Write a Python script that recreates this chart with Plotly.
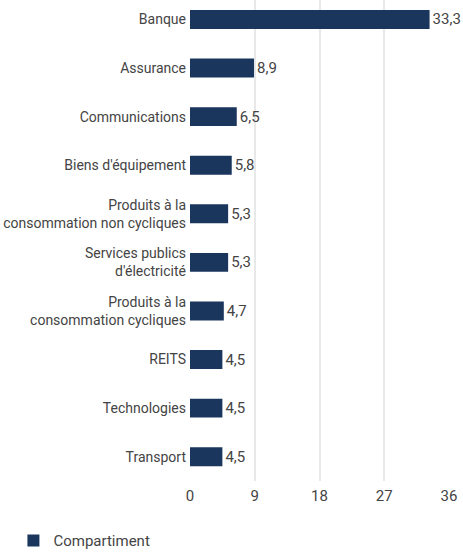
import plotly.graph_objects as go

categories = ["Banque", "Assurance", "Communications", "Biens d'équipement",
              "Produits à la<br>consommation non cycliques",
              "Services publics<br>d'électricité",
              "Produits à la<br>consommation cycliques",
              "REITS", "Technologies", "Transport"]
values = [33.3, 8.9, 6.5, 5.8, 5.3, 5.3, 4.7, 4.5, 4.5, 4.5]
tick_vals = [0, 9, 18, 27, 36]
series_name = "Compartiment"

FONT = "Roboto, sans-serif"
GREY = "#444444"
FS = 15

fig = go.Figure(go.Bar(
    y=categories, x=values, orientation="h", name=series_name,
    marker=dict(color="#1b365d", line=dict(width=0)),
    width=0.39,
    text=values, texttemplate="%{x:.1f}", textposition="outside",
    textfont=dict(family=FONT, size=FS, color=GREY),
    cliponaxis=False, showlegend=True,
))

fig.update_layout(
    width=463, height=553,
    margin=dict(l=190, r=14, t=0, b=72, autoexpand=False),
    paper_bgcolor="white", plot_bgcolor="white",
    separators=", ",
    font=dict(family=FONT, size=FS, color=GREY),
    bargap=0.6,
    xaxis=dict(range=[0, 36], tickvals=tick_vals, showgrid=True,
               gridcolor="#e8e8e8", gridwidth=2, zeroline=False,
               showline=False, ticks="", ticklabelstandoff=4,
               automargin=False,
               tickfont=dict(family=FONT, size=FS, color=GREY)),
    yaxis=dict(categoryorder="array", categoryarray=categories,
               range=[9.5, -0.4], showgrid=False, zeroline=False,
               ticks="", ticklabelstandoff=3, automargin=False,
               tickfont=dict(family=FONT, size=14, color=GREY)),
    legend=dict(orientation="h", xref="container", yref="paper",
                x=0.029, y=-0.124, xanchor="left", yanchor="middle",
                font=dict(family=FONT, size=FS, color=GREY)),
)

fig.write_html("out.html", config={"displayModeBar": False},
               post_script="document.body.style.margin='0';")
